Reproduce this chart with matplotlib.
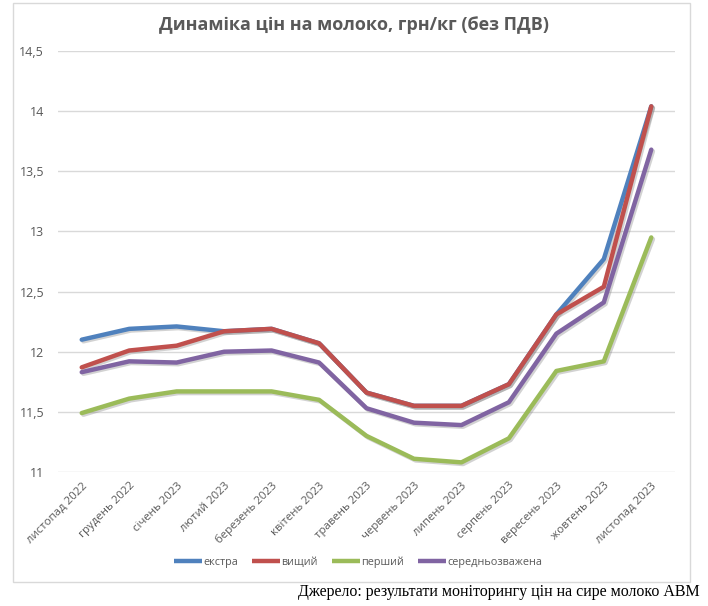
import matplotlib
matplotlib.use("Agg")
import matplotlib.pyplot as plt
import matplotlib.patheffects as pe
from matplotlib.patches import Rectangle
from matplotlib.ticker import FuncFormatter

months = ["листопад 2022", "грудень 2022", "січень 2023", "лютий 2023", "березень 2023",
          "квітень 2023", "травень 2023", "червень 2023", "липень 2023", "серпень 2023",
          "вересень 2023", "жовтень 2023", "листопад 2023"]
ekstra = [12.10, 12.19, 12.21, 12.17, 12.19, 12.07, 11.66, 11.55, 11.55, 11.73, 12.31, 12.77, 14.04]
vyshchyi = [11.87, 12.01, 12.05, 12.17, 12.19, 12.07, 11.66, 11.55, 11.55, 11.73, 12.31, 12.54, 14.04]
pershyi = [11.49, 11.61, 11.67, 11.67, 11.67, 11.60, 11.30, 11.11, 11.08, 11.28, 11.84, 11.92, 12.95]
serednio = [11.83, 11.92, 11.91, 12.00, 12.01, 11.91, 11.53, 11.41, 11.39, 11.58, 12.15, 12.41, 13.68]
series_names = ["екстра", "вищий", "перший", "середньозважена"]
colors = ["#4F81BD", "#C0504D", "#9BBB59", "#8064A2"]
yticks = [11, 11.5, 12, 12.5, 13, 13.5, 14, 14.5]

plt.rcParams['font.family'] = ['Open Sans', 'DejaVu Sans']

fig = plt.figure(figsize=(7.08, 6.06), dpi=100)
fig.patch.set_facecolor("white")

# chart border
fig.patches.append(Rectangle((13/708, 1 - 582/606), (690-13)/708, (582-3)/606,
                             transform=fig.transFigure, fill=False, edgecolor="#D9D9D9", lw=1))

ax = fig.add_axes([58/708, 1 - 472/606, (675-58)/708, (472-51)/606])
x = list(range(len(months)))
shadow = [pe.SimpleLineShadow(offset=(1.2, -1.2), shadow_color="gray", alpha=0.35), pe.Normal()]
for vals, name, c in zip([ekstra, vyshchyi, pershyi, serednio], series_names, colors):
    ax.plot(x, vals, color=c, lw=3.2, label=name, solid_joinstyle="round",
            solid_capstyle="round", path_effects=shadow)

ax.set_xlim(-0.5, len(months) - 0.5)
ax.set_ylim(11, 14.5)
ax.set_yticks(yticks)
ax.yaxis.set_major_formatter(FuncFormatter(lambda v, p: (f"{v:g}").replace(".", ",")))
ax.grid(axis="y", color="#D9D9D9", lw=1)
ax.set_axisbelow(True)
for s in ax.spines.values():
    s.set_visible(False)
ax.tick_params(axis="both", length=0, colors="#595959", labelsize=9)
ax.tick_params(axis="y", pad=10)
ax.set_xticks(x)
ax.set_xticklabels(months, rotation=45, ha="right", rotation_mode="anchor", fontsize=8.2)
ax.tick_params(axis="x", pad=6)

fig.text(354/708, 1 - 25/606, "Динаміка цін на молоко, грн/кг (без ПДВ)", ha="center", va="center",
         fontsize=13, fontweight="bold", color="#595959")

leg = fig.legend(loc="center", bbox_to_anchor=(358/708, 1 - 562/606), ncol=4, frameon=False,
                 fontsize=7.8, handlelength=2.6, handletextpad=0.1, columnspacing=1.3)
for t in leg.get_texts():
    t.set_color("#595959")
for h in leg.get_lines():
    h.set_linewidth(3.2)
    h.set_path_effects([])
    h.set_solid_capstyle("butt")

fig.text(700/708, 1 - 592/606, "Джерело: результати моніторингу цін на сире молоко АВМ",
         ha="right", va="center", fontsize=11.5, family=["Liberation Serif"], color="black")

fig.savefig("out.png", dpi=100)
